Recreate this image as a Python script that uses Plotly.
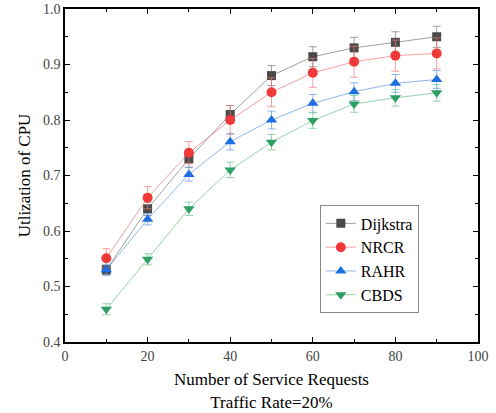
import plotly.graph_objects as go

requests = [10, 20, 30, 40, 50, 60, 70, 80, 90]
dijkstra = [0.53, 0.64, 0.73, 0.81, 0.88, 0.914, 0.93, 0.94, 0.95]
dijkstra_err = [0.008, 0.012, 0.015, 0.016, 0.018, 0.018, 0.019, 0.019, 0.019]
nrcr = [0.551, 0.66, 0.741, 0.80, 0.85, 0.885, 0.905, 0.916, 0.92]
nrcr_err = [0.017, 0.02, 0.02, 0.026, 0.026, 0.026, 0.028, 0.028, 0.028]
rahr = [0.53, 0.621, 0.702, 0.761, 0.80, 0.83, 0.851, 0.866, 0.873]
rahr_err = [0.01, 0.01, 0.012, 0.015, 0.016, 0.016, 0.016, 0.016, 0.016]
cbds = [0.459, 0.549, 0.64, 0.71, 0.76, 0.799, 0.829, 0.84, 0.849]
cbds_err = [0.01, 0.01, 0.012, 0.014, 0.014, 0.014, 0.015, 0.015, 0.015]

series = [
    ("Dijkstra", dijkstra, dijkstra_err, "#4a4a4a", "rgba(120,120,120,0.7)", "square", 9),
    ("NRCR", nrcr, nrcr_err, "#f03a3a", "rgba(240,120,120,0.7)", "circle", 10),
    ("RAHR", rahr, rahr_err, "#1f6fe0", "rgba(100,150,230,0.7)", "triangle-up", 10),
    ("CBDS", cbds, cbds_err, "#2e9f62", "rgba(120,200,150,0.8)", "triangle-down", 10),
]

fig = go.Figure()
for name, ys, err, mcol, lcol, sym, size in series:
    fig.add_trace(go.Scatter(
        x=requests, y=ys, name=name, mode="lines+markers",
        line=dict(color=lcol, width=1),
        marker=dict(symbol=sym, size=size, color=mcol),
        error_y=dict(type="data", array=err, visible=True, color=lcol,
                     thickness=1, width=4),
    ))

font_serif = "Liberation Serif"
fig.update_layout(
    width=496, height=413,
    margin=dict(l=65, r=18, t=9, b=71),
    plot_bgcolor="white", paper_bgcolor="white",
    font=dict(family=font_serif, color="black"),
    showlegend=True,
    legend=dict(x=0.617, y=0.41, xanchor="left", yanchor="top",
                bordercolor="#888888", borderwidth=1, bgcolor="white",
                font=dict(family=font_serif, size=16, color="black"),
                tracegroupgap=0, itemsizing="trace"),
    xaxis=dict(
        range=[0, 100], tickvals=[0, 20, 40, 60, 80, 100],
        ticks="inside", ticklen=5, tickwidth=1, tickcolor="black",
        minor=dict(tickvals=[10, 30, 50, 70, 90], ticks="inside", ticklen=3, tickcolor="black"),
        showline=True, linecolor="black", linewidth=1.5, mirror="allticks",
        showgrid=False, zeroline=False, automargin=False,
        tickfont=dict(family=font_serif, size=14, color="#444444"),
        title=dict(text="Number of Service Requests<br>Traffic Rate=20%",
                   font=dict(family=font_serif, size=17, color="black"), standoff=11),
    ),
    yaxis=dict(
        range=[0.4, 1.0], tickvals=[0.4, 0.5, 0.6, 0.7, 0.8, 0.9, 1.0],
        ticktext=["0.4", "0.5", "0.6", "0.7", "0.8", "0.9", "1.0"],
        ticks="inside", ticklen=5, tickwidth=1, tickcolor="black",
        minor=dict(tickvals=[0.45, 0.55, 0.65, 0.75, 0.85, 0.95], ticks="inside", ticklen=3, tickcolor="black"),
        showline=True, linecolor="black", linewidth=1.5, mirror="allticks",
        showgrid=False, zeroline=False, automargin=False,
        tickfont=dict(family=font_serif, size=14, color="#444444"),
        title=dict(text="Utlization of CPU",
                   font=dict(family=font_serif, size=17, color="black"), standoff=8),
    ),
)

fig.write_html("out.html", config={"displayModeBar": False},
               post_script="document.body.style.margin='0';document.body.style.overflow='hidden';")
